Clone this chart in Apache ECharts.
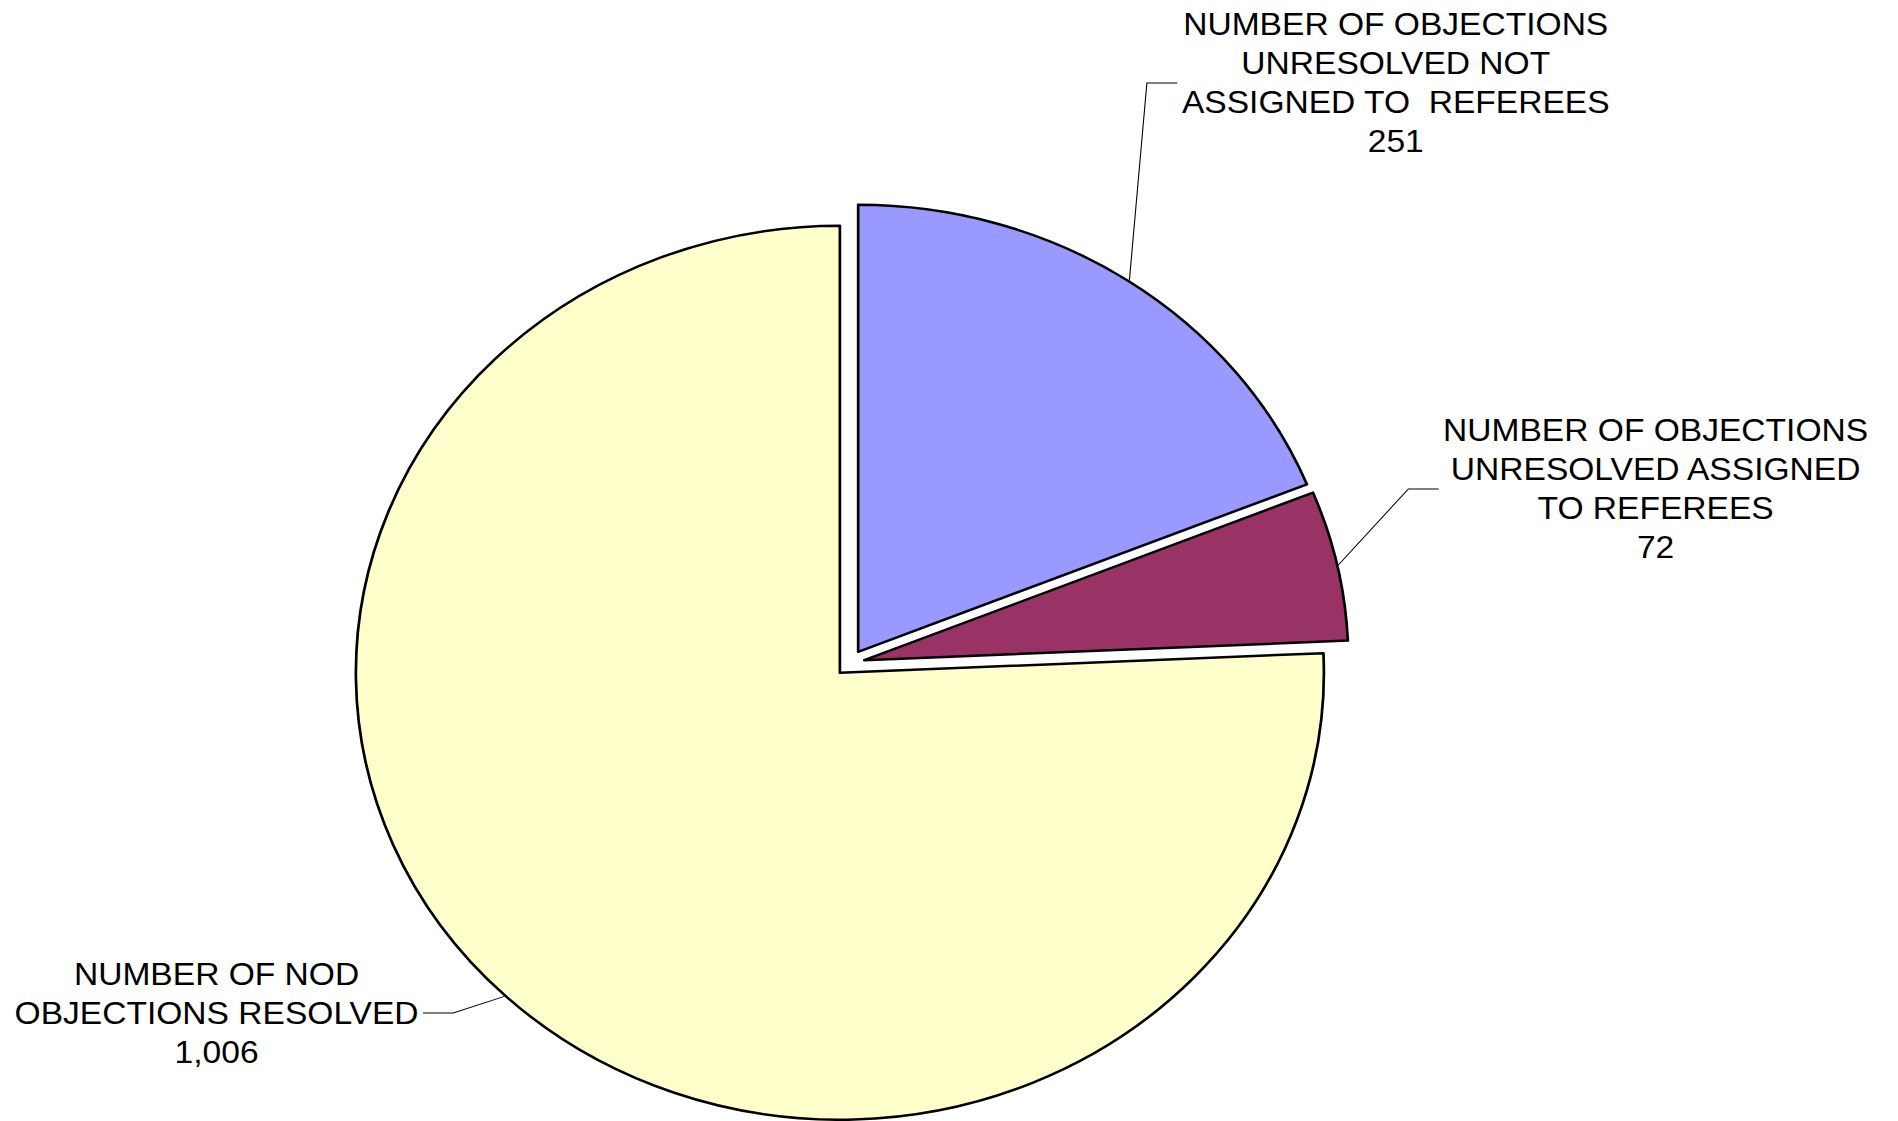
<!DOCTYPE html>
<html>
<head>
<meta charset="utf-8">
<script src="https://cdn.jsdelivr.net/npm/echarts@6/dist/echarts.min.js"></script>
<style>
html, body { margin: 0; padding: 0; background: #ffffff; overflow: hidden; }
#wrap { width: 1898px; height: 1121px; overflow: hidden; }
#chart { width: 1753px; height: 1121px; transform: scaleX(1.0828); transform-origin: 0 0; }
</style>
</head>
<body>
<div id="wrap"><div id="chart"></div></div>
<script>
// ---- data ----
const categories = [
  'NUMBER OF OBJECTIONS\nUNRESOLVED NOT\nASSIGNED TO  REFEREES',
  'NUMBER OF OBJECTIONS\nUNRESOLVED ASSIGNED\nTO REFEREES',
  'NUMBER OF NOD\nOBJECTIONS RESOLVED'
];
const values = [251, 72, 1006];
const colors = ['#9999FF', '#993366', '#FFFFCC'];

// ---- layout (in unstretched chart pixels) ----
const PIE_CENTER = [785, 663];
const PIE_RADIUS = 447;
const EXPLODE = 13.5;
const LABEL_POS = [[1289, 83], [1529, 489], [200, 1013]];
const LEADER_H = 28;
const LABEL_GAP = 4;

const total = values.reduce((a, b) => a + b, 0);
const mids = [];
let cum = 0;
values.forEach(v => {
  const a0 = 90 - cum / total * 360;
  const a1 = 90 - (cum + v) / total * 360;
  mids.push((a0 + a1) / 2 * Math.PI / 180);
  cum += v;
});
const centers = mids.map(m => [PIE_CENTER[0] + EXPLODE * Math.cos(m), PIE_CENTER[1] - EXPLODE * Math.sin(m)]);

function fmt(v) { return Number(v).toLocaleString('en-US'); }

const series = values.map((_, i) => ({
  type: 'pie',
  silent: true,
  animation: false,
  center: centers[i],
  radius: PIE_RADIUS,
  startAngle: 90,
  clockwise: true,
  avoidLabelOverlap: false,
  emphasis: { disabled: true },
  label: {
    show: true,
    position: 'outside',
    formatter: p => p.name + '\n' + fmt(p.value),
    fontFamily: 'Liberation Sans, Arial, sans-serif',
    fontSize: 31,
    lineHeight: 39,
    color: '#000000',
    align: 'center'
  },
  labelLine: { show: true, lineStyle: { color: '#000000', width: 1 } },
  data: values.map((v, j) => j === i ? {
    name: categories[j],
    value: v,
    itemStyle: { color: colors[j], borderColor: '#000000', borderWidth: 2.5 }
  } : {
    name: categories[j],
    value: v,
    itemStyle: { color: 'rgba(0,0,0,0)', borderWidth: 0 },
    label: { show: false },
    labelLine: { show: false }
  }),
  labelLayout: function (p) {
    const j = p.dataIndex;
    if (j !== i) return {};
    const pos = LABEL_POS[j];
    const w = p.labelRect.width;
    const c = centers[j];
    const m = mids[j];
    const p0 = [c[0] + (PIE_RADIUS + 1) * Math.cos(m), c[1] - (PIE_RADIUS + 1) * Math.sin(m)];
    const rightSide = pos[0] > c[0];
    const ax = rightSide ? pos[0] - w / 2 - LABEL_GAP : pos[0] + w / 2 + LABEL_GAP;
    const p1 = [rightSide ? ax - LEADER_H : ax + LEADER_H, pos[1]];
    return {
      x: pos[0], y: pos[1], align: 'center', verticalAlign: 'middle',
      labelLinePoints: [p0, p1, [ax, pos[1]]]
    };
  }
}));

const chart = echarts.init(document.getElementById('chart'), null, { renderer: 'svg' });
chart.setOption({
  backgroundColor: '#ffffff',
  animation: false,
  series: series
});
</script>
</body>
</html>
